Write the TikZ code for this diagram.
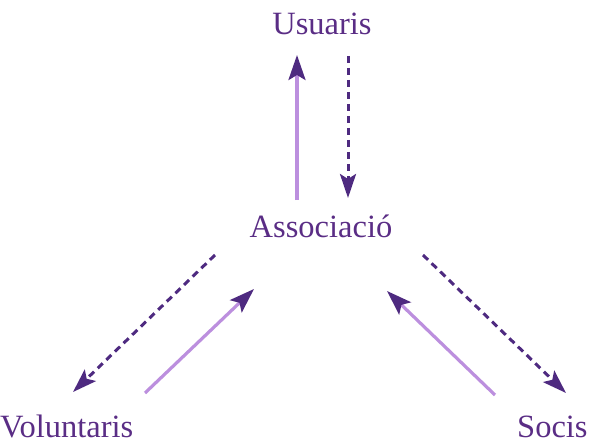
\documentclass[tikz,border=0pt]{standalone}
\usepackage{fontspec}
\setmainfont{Liberation Serif}
\usetikzlibrary{arrows.meta}
\definecolor{txtpurple}{HTML}{5A2D85}
\definecolor{darkarrow}{HTML}{4E2A80}
\definecolor{lightarrow}{HTML}{BC8FDE}
\begin{document}
\begin{tikzpicture}[x=1pt,y=-1pt,
  lbl/.style={inner sep=0pt,text=txtpurple,font=\fontsize{32.5}{39}\selectfont},
  solidarrow/.style={draw=lightarrow,line width=3.2pt,
    -{Stealth[length=25pt,width=17pt,inset=5pt,color=darkarrow,fill=darkarrow]}},
  dasharrow/.style={draw=darkarrow,line width=3pt,dash pattern=on 7pt off 5pt,
    -{Stealth[length=24pt,width=16pt,inset=5pt,color=darkarrow,fill=darkarrow]}}]
\useasboundingbox (0,0) rectangle (598,444);
\node[lbl,anchor=base] (usu) at (322,35) {Usuaris};
\node[lbl,anchor=base] (assoc) at (321,237) {Associació};
\node[lbl,anchor=base west] (vol) at (0,437) {Voluntaris};
\node[lbl,anchor=base west] (soc) at (517,437) {Socis};
% arrow end points
\coordinate (a1s) at (297,200); \coordinate (a1e) at (297,55);
\coordinate (a2s) at (348,56);  \coordinate (a2e) at (348,198);
\coordinate (a3s) at (215,255); \coordinate (a3e) at (73,392);
\coordinate (a4s) at (145,393); \coordinate (a4e) at (254,289);
\coordinate (a5s) at (495,395); \coordinate (a5e) at (387,291);
\coordinate (a6s) at (423,255); \coordinate (a6e) at (566,393);
\draw[solidarrow] (a1s) -- (a1e);
\draw[dasharrow] (a2s) -- (a2e);
\draw[dasharrow] (a3s) -- (a3e);
\draw[solidarrow] (a4s) -- (a4e);
\draw[solidarrow] (a5s) -- (a5e);
\draw[dasharrow] (a6s) -- (a6e);
\end{tikzpicture}
\end{document}
